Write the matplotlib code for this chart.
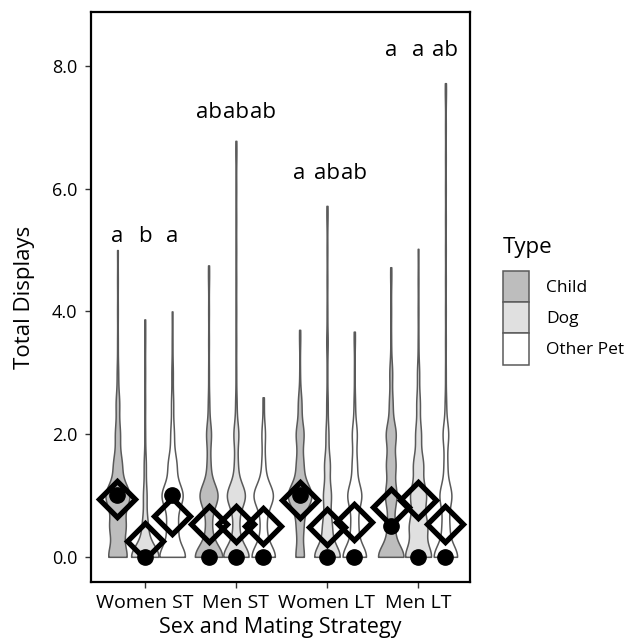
import numpy as np
import matplotlib
matplotlib.use("Agg")
import matplotlib.pyplot as plt
from matplotlib.patches import Patch

plt.rcParams['font.family'] = ['Open Sans', 'DejaVu Sans']

# groups on the x axis and the three display types
GROUPS = ["Women ST", "Men ST", "Women LT", "Men LT"]
TYPES = ["Child", "Dog", "Other Pet"]
FILLS = ["#bdbdbd", "#e0e0e0", "#ffffff"]

LEVELS = [0, 0.5, 1, 1.5, 2, 2.5, 3, 3.5, 4, 4.5, 5, 5.5, 6, 6.5, 7, 7.5]

child_counts = [
    [26, 22, 34, 12, 7, 5, 2, 1, 1, 1, 0, 0, 0, 0, 0, 0],
    [40, 8, 26, 5, 7, 2, 1, 1, 1, 1, 0, 0, 0, 0, 0, 0],
    [12, 10, 34, 10, 11, 5, 1, 1, 0, 0, 0, 0, 0, 0, 0, 0],
    [37, 10, 16, 13, 14, 5, 4, 1, 1, 1, 0, 0, 0, 0, 0, 0],
]
dog_counts = [
    [40, 8, 5, 3, 1, 1, 1, 1, 0, 0, 0, 0, 0, 0, 0, 0],
    [37, 8, 26, 5, 7, 2, 1, 1, 1, 1, 1, 1, 1, 1, 0, 0],
    [37, 13, 11, 8, 4, 2, 1, 2, 1, 1, 1, 1, 0, 0, 0, 0],
    [37, 25, 22, 14, 8, 5, 3, 1, 1, 1, 0, 0, 0, 0, 0, 0],
]
other_counts = [
    [37, 15, 30, 12, 5, 3, 2, 1, 0, 0, 0, 0, 0, 0, 0, 0],
    [34, 8, 28, 5, 5, 1, 0, 0, 0, 0, 0, 0, 0, 0, 0, 0],
    [34, 10, 20, 7, 7, 2, 1, 1, 0, 0, 0, 0, 0, 0, 0, 0],
    [34, 10, 17, 5, 8, 2, 1, 1, 1, 1, 1, 1, 1, 1, 1, 1],
]

# largest single observation in each violin (trim point)
child_max = [5.00, 4.75, 3.70, 4.72]
dog_max = [3.87, 6.78, 5.72, 5.02]
other_max = [4.00, 2.60, 3.67, 7.72]

# means (open diamonds) and medians (filled dots)
child_means = [0.94, 0.54, 0.93, 0.81]
dog_means = [0.25, 0.54, 0.49, 0.93]
other_means = [0.67, 0.50, 0.57, 0.54]
child_medians = [1.0, 0.0, 1.0, 0.5]
dog_medians = [0.0, 0.0, 0.0, 0.0]
other_medians = [1.0, 0.0, 0.0, 0.0]

# significance letters above each violin
child_letters = ["a", "ab", "a", "a"]
dog_letters = ["b", "ab", "ab", "a"]
other_letters = ["a", "ab", "ab", "ab"]
letter_y = [5.22, 7.25, 6.25, 8.25]

BW = 0.2
DODGE = 0.3
HALF_WIDTH = 0.15
EDGE = "#5a5a5a"


def density(counts, vmax, ys):
    lv = np.array(LEVELS + [vmax])
    c = np.array(counts + [1], dtype=float)
    z = (ys[:, None] - lv[None, :]) / BW
    return (c[None, :] * np.exp(-0.5 * z ** 2)).sum(axis=1)


fig = plt.figure(figsize=(6.33, 6.38), dpi=100)
ax = fig.add_axes([0.1438, 0.0878, 0.7425 - 0.1438, 0.9812 - 0.0878])

all_counts = [child_counts, dog_counts, other_counts]
all_max = [child_max, dog_max, other_max]
all_means = [child_means, dog_means, other_means]
all_medians = [child_medians, dog_medians, other_medians]
all_letters = [child_letters, dog_letters, other_letters]

# densities first so every violin shares one width scale
shapes = {}
for t in range(3):
    for g in range(4):
        ys = np.linspace(0, all_max[t][g], 600)
        shapes[(t, g)] = (ys, density(all_counts[t][g], all_max[t][g], ys))
dmax = max(d.max() for _, d in shapes.values())

for g in range(4):
    for t in range(3):
        xc = g + 1 + (t - 1) * DODGE
        ys, d = shapes[(t, g)]
        w = d / dmax * HALF_WIDTH
        ax.fill_betweenx(ys, xc - w, xc + w, facecolor=FILLS[t],
                         edgecolor=EDGE, linewidth=1.1, zorder=2)
        ax.plot(xc, all_medians[t][g], 'o', color='black', ms=11, zorder=3)
        ax.plot(xc, all_means[t][g], 'D', mfc='none', mec='black', mew=3.8,
                ms=18.5, zorder=4)
        ax.text(xc, letter_y[g], all_letters[t][g], ha='center', va='center',
                fontsize=16, zorder=5)

ax.set_xlim(0.41, 4.57)
ax.set_ylim(-0.41, 8.88)
ax.set_xticks(range(1, 5))
ax.set_xticklabels(GROUPS, fontsize=14)
ax.set_yticks([0, 2, 4, 6, 8])
ax.set_yticklabels([f"{v:.1f}" for v in [0, 2, 4, 6, 8]], fontsize=13)
ax.tick_params(length=4, width=1, color="#333333")
ax.tick_params(axis='y', pad=6)
ax.tick_params(axis='x', pad=5)
for sp in ax.spines.values():
    sp.set_linewidth(1.6)
ax.set_xlabel("Sex and Mating Strategy", fontsize=15.5, labelpad=3)
ax.set_ylabel("Total Displays", fontsize=16, labelpad=12)

handles = [Patch(facecolor=FILLS[t], edgecolor=EDGE, linewidth=1.1, label=TYPES[t])
           for t in range(3)]
leg = fig.legend(handles=handles, title="Type", loc='upper left',
                 bbox_to_anchor=(0.781, 0.642), frameon=False, fontsize=12.5,
                 title_fontsize=16, handlelength=1.5, handleheight=2.4,
                 labelspacing=0.0, handletextpad=1.0, borderpad=0)
leg._legend_box.align = "left"
leg._legend_box.sep = 9

fig.savefig("out.png", dpi=100)
